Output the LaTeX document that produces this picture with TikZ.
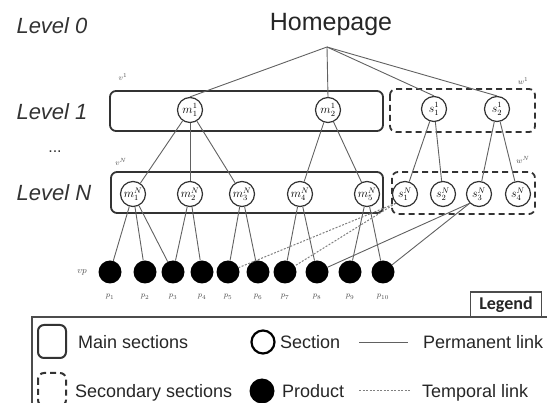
\documentclass[tikz,border=0pt]{standalone}
\usepackage{fontspec}
\setmainfont{Liberation Sans}
\newfontfamily\legfont{Carlito}
\begin{document}
\begin{tikzpicture}[x=1pt,y=-1pt,
  sec/.style={circle,draw=black!80,line width=1.2pt,minimum size=25pt,inner sep=0pt,font=\fontsize{11.5}{11.5}\selectfont},
  prod/.style={circle,fill=black,minimum size=23pt,inner sep=0pt},
  link/.style={draw=black!62,line width=0.9pt},
  tlink/.style={draw=black!50,line width=1pt,dash pattern=on 2pt off 1.5pt},
  mainbox/.style={draw=black!80,line width=1.8pt,rounded corners=6pt},
  secbox/.style={mainbox,dash pattern=on 6pt off 4pt},
  lvl/.style={font=\fontsize{22}{22}\selectfont\itshape,text=black!80},
  small/.style={font=\fontsize{8}{8}\selectfont,text=black!70,inner sep=0pt},
  leg/.style={font=\fontsize{18}{18}\selectfont,text=black!85,anchor=base west,inner sep=0pt}]
\clip (0,0) rectangle (547,403);
% level labels
\node[lvl] (l0) at (52,26) {Level 0};
\node[lvl] (l1) at (52,112) {Level 1};
\node[font=\fontsize{16}{16}\selectfont,text=black!80] (dots) at (55,152) {...};
\node[lvl] (lN) at (54,193) {Level N};
% homepage
\node[font=\fontsize{25}{25}\selectfont,text=black!85] (home) at (331,24) {Homepage};
\coordinate (hp) at (327,47);
% boxes
\draw[mainbox] (110,91) rectangle (383,131);
\draw[secbox] (390,89) rectangle (535,132);
\draw[mainbox] (111,172) rectangle (383,213);
\draw[secbox] (392,172) rectangle (535,214);
\node[small] (v1) at (123,77) {$v^{1}$};
\node[small] (w1) at (523,81) {$w^{1}$};
\node[small] (vN) at (121,162) {$v^{N}$};
\node[small] (wN) at (523,160) {$w^{N}$};
% level 1 sections
\node[sec] (m11) at (190,110) {$m^{1}_{1}$};
\node[sec] (m21) at (328,110) {$m^{1}_{2}$};
\node[sec] (s11) at (434,109) {$s^{1}_{1}$};
\node[sec] (s21) at (497,109) {$s^{1}_{2}$};
% level N sections
\foreach \i/\x in {1/133,2/190,3/242,4/300,5/367}
  \node[sec] (m\i N) at (\x,194) {$m^{N}_{\i}$};
\foreach \i/\x in {1/405,2/443,3/479,4/518}
  \node[sec] (s\i N) at (\x,194) {$s^{N}_{\i}$};
% products
\node[small,font=\fontsize{9}{9}\selectfont\bfseries] (vp) at (82,272) {$vp$};
\foreach \i/\x in {1/110,2/145,3/173,4/202,5/228,6/258,7/285,8/317,9/350,10/383}{
  \node[prod] (p\i) at (\x,272) {};
  \node[small] (pl\i) at (\x,297) {$p_{\i}$};
}
% homepage links
\foreach \t in {m11,m21,s11,s21}
  \draw[link] (hp) -- (\t.north);
% level 1 -> level N
\foreach \a/\b in {m11/m1N,m11/m2N,m11/m3N,m21/m4N,m21/m5N,s11/s1N,s11/s2N,s21/s3N,s21/s4N}
  \draw[link] (\a) -- (\b);
% level N -> products
\foreach \a/\b in {m1N/p1,m1N/p2,m1N/p3,m2N/p3,m2N/p4,m3N/p5,m3N/p6,m4N/p7,m4N/p8,m5N/p9,m5N/p10}
  \draw[link] (\a) -- (\b);
\draw[tlink] (s1N.south west) -- (p5);
\draw[tlink] (s1N.south west) -- (p7);
\draw[link] (s3N.south west) -- (p8);
\draw[link] (s3N.south west) -- (p10);
% legend
\draw[draw=black!70,line width=1.2pt] (32,317) rectangle (560,420);
\node[draw=black!70,line width=1.2pt,fill=white,minimum width=71pt,minimum height=25pt,inner sep=0pt,font=\legfont\bfseries\fontsize{18}{18}\selectfont,text=black!85] (legt) at (506,304.5) {Legend};
\draw[mainbox,line width=2pt] (38,325) rectangle (66,358);
\node[leg] (lt1) at (78,348.5) {Main sections};
\draw[secbox,line width=2pt] (38,373) rectangle (66,406);
\node[leg] (lt2) at (75,397.5) {Secondary sections};
\node[circle,draw=black,line width=2.2pt,minimum size=23pt,inner sep=0pt] (lc1) at (263,342) {};
\node[leg] (lt3) at (280,348.5) {Section};
\node[circle,fill=black,minimum size=25pt,inner sep=0pt] (lc2) at (262,391) {};
\node[leg] (lt4) at (282,397.5) {Product};
\coordinate (la1) at (359,342);
\coordinate (lb1) at (408,342);
\draw[link] (la1) -- (lb1);
\node[leg] (lt5) at (423,348.5) {Permanent link};
\coordinate (la2) at (359,391);
\coordinate (lb2) at (411,391);
\draw[tlink] (la2) -- (lb2);
\node[leg] (lt6) at (422,397.5) {Temporal link};
\end{tikzpicture}
\end{document}
